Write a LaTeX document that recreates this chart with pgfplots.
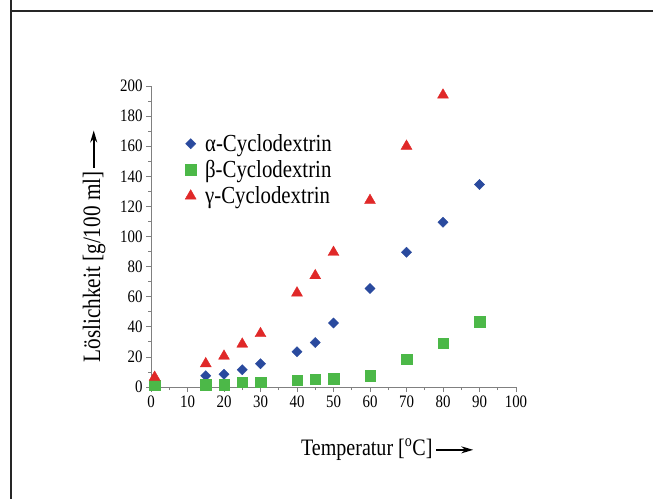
\documentclass[border=0pt]{standalone}
\usepackage{fontspec}
\setmainfont{Liberation Serif}[FakeStretch=0.85]
\usepackage{pgfplots}
\pgfplotsset{compat=1.18}
\usetikzlibrary{arrows.meta}

\definecolor{alphacol}{HTML}{2A4A9E}
\definecolor{betacol}{HTML}{4CB848}
\definecolor{gammacol}{HTML}{E02828}

\newcommand{\longarr}{\tikz[baseline=-0.55ex]\draw[line width=1.6pt,-{Stealth[length=12pt,width=7pt]}] (0,0) -- (37pt,0);}

\begin{document}
\begin{tikzpicture}[x=1pt,y=1pt]
\path[use as bounding box] (0,0) rectangle (653,498);
% frame of the page (only top and left edge visible)
\draw[line width=2pt, black!85] (10.5,500) -- (10.5,487) -- (660,487);
\draw[line width=2pt, black!85] (10.5,487) -- (10.5,-2);

\begin{axis}[
    at={(151pt,111pt)}, anchor=origin,
    scale only axis,
    width=365pt, height=301pt,
    xmin=0, xmax=100, ymin=0, ymax=200,
    xtick={0,10,...,100}, ytick={0,20,...,200},
    minor x tick num=1, minor y tick num=1,
    axis lines=left,
    axis line style={-, gray, line width=0.8pt},
    tick align=outside,
    major tick length=5pt, minor tick length=3pt,
    every tick/.style={gray, line width=0.8pt},
    tick label style={font=\fontsize{17.5}{17.5}\selectfont},
    /pgf/number format/assume math mode=true,
    clip=false,
    xlabel={Temperatur [\textsuperscript{o}C]\hspace{3pt}\longarr},
    ylabel={Löslichkeit [g/100 ml]\hspace{3pt}\longarr},
    xlabel style={font=\fontsize{23.6}{23.6}\selectfont,
        at={(axis description cs:0.648,-0.209)}, anchor=center},
    ylabel style={font=\fontsize{25}{25}\selectfont,
        at={(axis description cs:-0.156,0.468)}, anchor=center, rotate=0},
    legend style={at={(axis description cs:0.085,0.853)}, anchor=north west,
        draw=none, fill=none, font=\fontsize{24.5}{24.5}\selectfont,
        row sep=3.5pt},
    legend cell align=left,
]
\addplot[only marks, mark=square*, mark size=3.6pt, color=alphacol,
    mark options={rotate=45}]
    coordinates {(15,7.5) (20,8.5) (25,11.5) (30,15.5) (40,23.5) (45,29.5)
                 (50,42.5) (60,65.5) (70,89.5) (80,109.5) (90,134.5)};
\addplot[only marks, mark=square*, mark size=5.2pt, color=betacol]
    coordinates {(1,1) (15,1.5) (20,1.5) (25,3) (30,3) (40,4.5) (45,5)
                 (50,5.5) (60,7.5) (70,18.5) (80,29) (90,43.5)};
\addplot[only marks, mark=triangle*, mark size=6.3pt, color=gammacol]
    coordinates {(1,6.5) (15,15.5) (20,20.5) (25,28.5) (30,35.5) (40,62.5)
                 (45,74) (50,89.5) (60,124) (70,160) (80,194)};
\legend{\hspace{7pt}α-Cyclodextrin, \hspace{7pt}β-Cyclodextrin, \hspace{7pt}γ-Cyclodextrin}
\end{axis}
\end{tikzpicture}
\end{document}
